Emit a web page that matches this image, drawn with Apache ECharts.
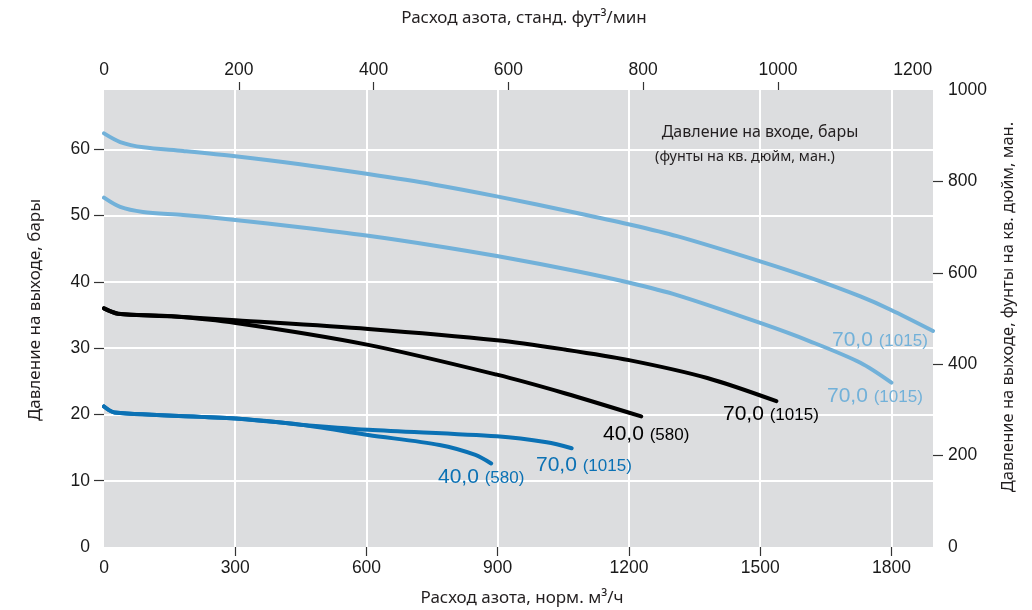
<!DOCTYPE html>
<html>
<head>
<meta charset="utf-8">
<script src="https://cdn.jsdelivr.net/npm/echarts@6/dist/echarts.min.js"></script>
<style>
html,body{margin:0;padding:0;background:#fff;}
#chart{width:1032px;height:610px;}
</style>
</head>
<body>
<div id="chart"></div>
<script>
// расход, норм. м3/ч  /  давление на выходе, бары
var flowLight1=[0,37,90,181,300,448,600,753,898,1081,1199,1310,1500,1615,1729,1798,1895];
var presLight1=[62.4,61.1,60.3,59.75,58.95,57.75,56.3,54.7,52.9,50.4,48.7,46.9,43.1,40.6,37.8,35.8,32.6];
var flowLight2=[0,37,89,181,300,448,600,753,898,1081,1199,1310,1500,1615,1729,1800];
var presLight2=[52.7,51.3,50.55,50.1,49.35,48.25,47.0,45.5,43.9,41.6,39.9,38.0,33.8,31.0,27.8,24.8];
var flowBlack70=[0,32,154,301,604,898,1053,1200,1379,1537];
var presBlack70=[36.0,35.2,34.8,34.2,32.9,31.2,29.8,28.2,25.5,22.0];
var flowBlack40=[0,32,154,301,604,898,1053,1228];
var presBlack40=[36.0,35.2,34.8,33.8,30.5,26.0,23.2,19.7];
var flowBlue70=[0,24,301,444,604,898,1012,1069];
var presBlue70=[21.2,20.3,19.4,18.5,17.7,16.7,15.8,14.9];
var flowBlue40=[0,24,301,444,604,767,849,885];
var presBlue40=[21.2,20.3,19.4,18.5,16.9,15.4,13.9,12.6];

var bottomTicks=[0,300,600,900,1200,1500,1800];
var topTicks=[0,200,400,600,800,1000,1200];
var barTicks=[0,10,20,30,40,50,60];
var psiTicks=[0,200,400,600,800,1000];

var lightBlue='#72b1d9', darkBlue='#0b71b4', black='#000';
var tickFont='"Liberation Sans", Arial, sans-serif';
var nameFont='"Noto Sans", "Open Sans", sans-serif';

var measureCtx=document.createElement('canvas').getContext('2d');
function textWidth(str,font){
	measureCtx.font=font;
	return measureCtx.measureText(str).width;
}
function pairs(xs,ys){
	var out=[];
	for(var i=0;i<xs.length;i++){out.push([xs[i],ys[i]]);}
	return out;
}
function plain(v){return String(v);}
function curve(name,xs,ys,color){
	return {
		name:name,
		type:'line',
		xAxisIndex:0,
		yAxisIndex:0,
		smooth:0.3,
		showSymbol:false,
		lineStyle:{color:color,width:4,cap:'round'},
		data:pairs(xs,ys)
	};
}
// метка кривой: крупное значение в барах + мелкое в psi
function curveLabel(x,midY,num,psi,color){
	var fontA='21px '+tickFont, fontB='17px '+tickFont;
	var wA=textWidth(num+' ',fontA);
	return [
		{type:'text',z:100,x:x,y:midY,style:{text:num,font:fontA,fill:color,align:'left',verticalAlign:'middle'}},
		{type:'text',z:100,x:x+wA,y:midY+1.5,style:{text:'('+psi+')',font:fontB,fill:color,align:'left',verticalAlign:'middle'}}
	];
}
function nameText(x,y,str,size,rot){
	return {type:'text',z:100,x:x,y:y,rotation:rot||0,
		style:{text:str,font:size+'px '+nameFont,fill:'#231f20',align:'center',verticalAlign:'middle'}};
}
function axisText(extra){
	var base={margin:13,fontFamily:tickFont,fontSize:17.5,color:'#1a1a1a',formatter:plain};
	for(var k in extra){base[k]=extra[k];}
	return base;
}
function tick(len,vals){
	return {show:true,length:len,lineStyle:{color:'#333',width:1.2},customValues:vals};
}

var chart=echarts.init(document.getElementById('chart'));
var graphics=[
	nameText(524,18,'Расход азота, станд. фут³/мин',17),
	nameText(522,598,'Расход азота, норм. м³/ч',17),
	nameText(35,310,'Давление на выходе, бары',17,Math.PI/2),
	nameText(1008,307,'Давление на выходе, фунты на кв. дюйм, ман.',16.5,Math.PI/2),
	nameText(760,132,'Давление на входе, бары',16),
	nameText(745,157,'(фунты на кв. дюйм, ман.)',14.4)
]
	.concat(curveLabel(832,340,'70,0','1015',lightBlue))
	.concat(curveLabel(827,396,'70,0','1015',lightBlue))
	.concat(curveLabel(723,414,'70,0','1015',black))
	.concat(curveLabel(603,434,'40,0','580',black))
	.concat(curveLabel(536,465,'70,0','1015',darkBlue))
	.concat(curveLabel(438,477,'40,0','580',darkBlue));

var option={
	backgroundColor:'#fff',
	animation:false,
	grid:{left:104,right:99,top:90,bottom:63,show:true,backgroundColor:'#dcdddf',borderWidth:0},
	xAxis:[
		{
			type:'value',position:'bottom',min:0,max:1895,interval:300,
			axisLine:{show:false,onZero:false},
			axisTick:tick(9,[300,600,900,1200,1500,1800]),
			axisLabel:axisText({margin:12,customValues:bottomTicks}),
			splitLine:{show:true,lineStyle:{color:'#fff',width:2}}
		},
		{
			type:'value',position:'top',min:0,max:1230,interval:200,
			axisLine:{show:false,onZero:false},
			axisTick:tick(8,[200,400,600,800,1000]),
			axisLabel:axisText({margin:11,customValues:topTicks}),
			splitLine:{show:false}
		}
	],
	yAxis:[
		{
			type:'value',position:'left',min:0,max:68.95,interval:10,
			axisLine:{show:false,onZero:false},
			axisTick:tick(10,[10,20,30,40,50,60]),
			axisLabel:axisText({margin:14,customValues:barTicks}),
			splitLine:{show:true,lineStyle:{color:'#fff',width:2}}
		},
		{
			type:'value',position:'right',min:0,max:1000,interval:200,
			axisLine:{show:false,onZero:false},
			axisTick:tick(10,[200,400,600,800]),
			axisLabel:axisText({margin:15,customValues:psiTicks}),
			splitLine:{show:false}
		}
	],
	series:[
		curve('Свет 1',flowLight1,presLight1,lightBlue),
		curve('Свет 2',flowLight2,presLight2,lightBlue),
		curve('70,0 чёрн.',flowBlack70,presBlack70,black),
		curve('40,0 чёрн.',flowBlack40,presBlack40,black),
		curve('70,0 син.',flowBlue70,presBlue70,darkBlue),
		curve('40,0 син.',flowBlue40,presBlue40,darkBlue)
	],
	graphic:graphics
};
chart.setOption(option);
</script>
</body>
</html>
